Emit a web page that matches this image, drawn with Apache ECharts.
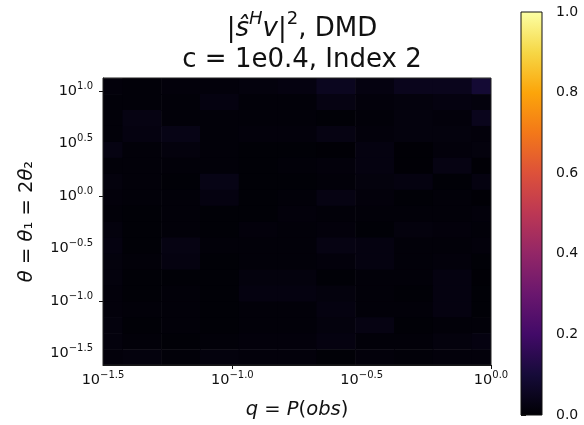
<!DOCTYPE html>
<html>
<head>
<meta charset="utf-8">
<style>
  html, body { margin: 0; padding: 0; background: #fff; }
  #chart { width: 584px; height: 425px; }
</style>
<script src="https://cdn.jsdelivr.net/npm/echarts@6/dist/echarts.min.js"></script>
</head>
<body>
<div id="chart"></div>
<script>
// log10 of q = P(obs) at each column centre
const qExp = [-1.5, -1.35, -1.2, -1.05, -0.9, -0.75, -0.6, -0.45, -0.3, -0.15, 0.0];
// log10 of theta at each row centre, top row first
const thetaExp = [1.048, 0.896, 0.744, 0.592, 0.440, 0.288, 0.136, -0.016, -0.168,
                  -0.320, -0.472, -0.624, -0.776, -0.928, -1.080, -1.232, -1.384, -1.536];
// |s^H v|^2 per row (top to bottom), one value per q column
const overlap = [
  [0.013, 0.010, 0.013, 0.013, 0.017, 0.022, 0.050, 0.022, 0.045, 0.045, 0.090],
  [0.010, 0.010, 0.010, 0.022, 0.010, 0.010, 0.027, 0.013, 0.017, 0.022, 0.017],
  [0.010, 0.027, 0.010, 0.010, 0.010, 0.010, 0.006, 0.010, 0.017, 0.013, 0.045],
  [0.010, 0.022, 0.032, 0.010, 0.013, 0.013, 0.027, 0.013, 0.017, 0.017, 0.013],
  [0.027, 0.010, 0.017, 0.010, 0.006, 0.006, 0.003, 0.022, 0.003, 0.013, 0.017],
  [0.010, 0.010, 0.010, 0.010, 0.006, 0.010, 0.013, 0.022, 0.003, 0.027, 0.003],
  [0.017, 0.010, 0.006, 0.032, 0.006, 0.006, 0.010, 0.017, 0.022, 0.006, 0.022],
  [0.013, 0.010, 0.010, 0.022, 0.006, 0.010, 0.027, 0.013, 0.006, 0.010, 0.003],
  [0.010, 0.006, 0.010, 0.006, 0.006, 0.013, 0.010, 0.010, 0.010, 0.010, 0.013],
  [0.017, 0.006, 0.010, 0.006, 0.013, 0.010, 0.013, 0.006, 0.017, 0.013, 0.010],
  [0.022, 0.006, 0.027, 0.010, 0.010, 0.010, 0.027, 0.022, 0.010, 0.010, 0.013],
  [0.017, 0.010, 0.022, 0.006, 0.010, 0.010, 0.013, 0.022, 0.010, 0.013, 0.006],
  [0.017, 0.006, 0.006, 0.006, 0.017, 0.017, 0.006, 0.010, 0.010, 0.022, 0.003],
  [0.013, 0.006, 0.010, 0.006, 0.022, 0.022, 0.017, 0.010, 0.006, 0.022, 0.006],
  [0.013, 0.010, 0.010, 0.006, 0.010, 0.010, 0.022, 0.010, 0.010, 0.022, 0.006],
  [0.017, 0.006, 0.010, 0.006, 0.010, 0.010, 0.017, 0.027, 0.006, 0.010, 0.010],
  [0.017, 0.010, 0.006, 0.010, 0.013, 0.013, 0.022, 0.010, 0.010, 0.017, 0.022],
  [0.013, 0.017, 0.010, 0.017, 0.013, 0.013, 0.006, 0.013, 0.010, 0.013, 0.013]
];
// axis tick positions (log10) and colorbar range
const qLabelExp = [-1.5, -1.0, -0.5, 0.0];
const qTickExp = [-1.0, 0.0];
const thetaLabelExp = [-1.5, -1.0, -0.5, 0.0, 0.5, 1.0];
const thetaTickExp = [-1.0, 0.0, 1.0];
const colorRange = [0, 1];

const qRange = [-1.5, 0.0];
const thetaRange = [-1.61, 1.125];
const qStep = 0.15;
const thetaStep = (thetaRange[1] - thetaRange[0]) / thetaExp.length;

// matplotlib "inferno" colormap sampled every 0.1
const inferno = ['#000004', '#160b39', '#420a68', '#6a176e', '#932667', '#bc3754',
                 '#dd513a', '#f37819', '#fca50a', '#f6d746', '#fcffa4'];

const cells = [];
thetaExp.forEach((ty, r) => {
  qExp.forEach((qx, c) => cells.push([qx, ty, overlap[r][c]]));
});

const FONT = 'DejaVu Sans';
const INK = '#111';
const powRich = {
  b: { fontFamily: FONT, fontSize: 14.5, lineHeight: 18, color: INK, verticalAlign: 'middle' },
  s: { fontFamily: FONT, fontSize: 10, lineHeight: 10, padding: [0, 0, 10, 0], color: INK, verticalAlign: 'middle' }
};
const powLabel = v => '{b|10}{s|' + v.toFixed(1).replace('-', '\u2212') + '}';

const chart = echarts.init(document.getElementById('chart'), null, { renderer: 'canvas' });

chart.setOption({
  animation: false,
  backgroundColor: '#fff',
  title: [
    {
      text: '{t||}{i|\u015d}{si|H}{i|v}{t||}{s|2}{t|, DMD}',
      left: 297, top: 7, textAlign: 'center',
      textStyle: {
        fontWeight: 'normal',
        rich: {
          t: { fontFamily: FONT, fontWeight: 'normal', fontSize: 26, color: INK, lineHeight: 34, verticalAlign: 'middle' },
          i: { fontFamily: FONT, fontWeight: 'normal', fontStyle: 'italic', fontSize: 26, color: INK, lineHeight: 34, verticalAlign: 'middle' },
          s: { fontFamily: FONT, fontWeight: 'normal', fontSize: 18, color: INK, lineHeight: 14, padding: [0, 0, 20, 0], verticalAlign: 'middle' },
          si: { fontFamily: FONT, fontWeight: 'normal', fontStyle: 'italic', fontSize: 18, color: INK, lineHeight: 14, padding: [0, 0, 20, 0], verticalAlign: 'middle' }
        }
      }
    },
    {
      text: 'c = 1e0.4, Index 2',
      left: 297, top: 42, textAlign: 'center',
      textStyle: { fontFamily: FONT, fontSize: 26, fontWeight: 'normal', color: INK }
    }
  ],
  grid: [
    { left: 103, top: 78, width: 388, height: 287, show: true, borderColor: '#222', borderWidth: 1, backgroundColor: 'transparent', z: 3 },
    { left: 521, top: 12, width: 21, height: 403, show: true, borderColor: '#111', borderWidth: 1, backgroundColor: 'transparent', z: 3 }
  ],
  xAxis: [
    {
      gridIndex: 0, type: 'value', min: qRange[0], max: qRange[1],
      name: '{i|q} = {i|P}({i|obs})', nameLocation: 'middle', nameGap: 35,
      nameTextStyle: {
        rich: {
          i: { fontFamily: FONT, fontStyle: 'italic', fontSize: 19.5, color: INK }
        },
        fontFamily: FONT, fontSize: 19.5, color: INK
      },
      axisLine: { show: true, onZero: false, lineStyle: { color: '#111', width: 1 } },
      axisTick: { show: true, customValues: qTickExp, length: 4, lineStyle: { color: '#111' } },
      axisLabel: { show: true, customValues: qLabelExp, margin: 6, formatter: powLabel, rich: powRich },
      splitLine: { show: false }
    },
    { gridIndex: 1, type: 'value', min: 0, max: 1, show: false }
  ],
  yAxis: [
    {
      gridIndex: 0, type: 'value', min: thetaRange[0], max: thetaRange[1],
      name: '{i|\u03b8} = {i|\u03b8}\u2081 = 2{i|\u03b8}\u2082', nameLocation: 'middle', nameGap: 66, nameRotate: 90,
      nameTextStyle: {
        rich: {
          i: { fontFamily: FONT, fontStyle: 'italic', fontSize: 19.5, color: INK }
        },
        fontFamily: FONT, fontSize: 19.5, color: INK
      },
      axisLine: { show: true, onZero: false, lineStyle: { color: '#111', width: 1 } },
      axisTick: { show: true, customValues: thetaTickExp, length: 4, lineStyle: { color: '#111' } },
      axisLabel: { show: true, customValues: thetaLabelExp, margin: 10, formatter: powLabel, rich: powRich },
      splitLine: { show: false }
    },
    {
      gridIndex: 1, type: 'value', position: 'right', min: colorRange[0], max: colorRange[1], interval: 0.2,
      axisLine: { show: false },
      axisTick: { show: true, length: 5, lineStyle: { color: '#111' } },
      axisLabel: { show: true, margin: 14, fontFamily: FONT, fontSize: 14, color: INK, formatter: v => v.toFixed(1) },
      splitLine: { show: false }
    }
  ],
  visualMap: {
    type: 'continuous', show: false, seriesIndex: 0, dimension: 2,
    min: colorRange[0], max: colorRange[1], inRange: { color: inferno }
  },
  series: [
    {
      type: 'custom', coordinateSystem: 'cartesian2d', xAxisIndex: 0, yAxisIndex: 0,
      encode: { x: 0, y: 1 },
      data: cells,
      renderItem: function (params, api) {
        const x = api.value(0), y = api.value(1);
        const p0 = api.coord([x - qStep / 2, y + thetaStep / 2]);
        const p1 = api.coord([x + qStep / 2, y - thetaStep / 2]);
        const cs = params.coordSys;
        const shape = echarts.graphic.clipRectByRect(
          { x: p0[0], y: p0[1], width: p1[0] - p0[0] + 0.6, height: p1[1] - p0[1] + 0.6 },
          { x: cs.x, y: cs.y, width: cs.width, height: cs.height }
        );
        if (!shape) return null;
        return { type: 'rect', shape: shape, style: { fill: api.visual('color') } };
      }
    },
    {
      type: 'custom', coordinateSystem: 'cartesian2d', xAxisIndex: 1, yAxisIndex: 1,
      encode: { x: 0, y: 1 },
      data: [[0, colorRange[0]]],
      renderItem: function (params, api) {
        const p0 = api.coord([0, colorRange[1]]);
        const p1 = api.coord([1, colorRange[0]]);
        return {
          type: 'rect',
          shape: { x: p0[0], y: p0[1], width: p1[0] - p0[0], height: p1[1] - p0[1] },
          style: {
            fill: new echarts.graphic.LinearGradient(0, 1, 0, 0,
              inferno.map((c, i) => ({ offset: i / (inferno.length - 1), color: c })))
          }
        };
      }
    }
  ]
});
</script>
</body>
</html>
